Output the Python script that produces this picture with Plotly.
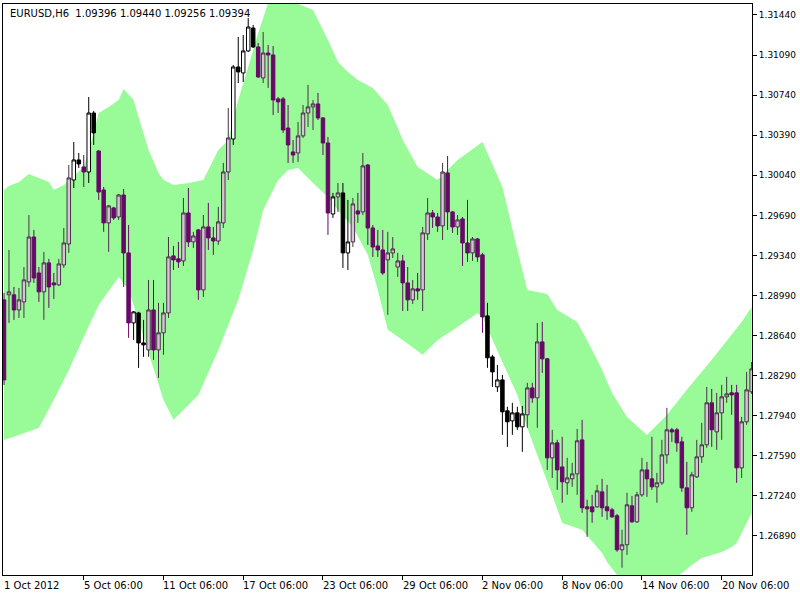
import numpy as np
import plotly.graph_objects as go

# ---- data (EURUSD H6, bar index 0 = 1 Oct 2012 06:00) ----
opens = [1.28952, 1.28996, 1.28996, 1.28864, 1.28934, 1.29109, 1.29501, 1.29187, 1.29022, 1.29275,
         1.29100, 1.29083, 1.29257, 1.29440, 1.29999, 1.30174, 1.30113, 1.30069, 1.30584, 1.30252,
         1.29912, 1.29624, 1.29755, 1.29676, 1.29868, 1.29362, 1.28751, 1.28838, 1.28576, 1.28515,
         1.28864, 1.28515, 1.28664, 1.28838, 1.29336, 1.29310, 1.29292, 1.29711, 1.29458, 1.29563,
         1.29039, 1.29589, 1.29493, 1.29466, 1.29624, 1.30069, 1.30357, 1.30986, 1.30934, 1.31126,
         1.31326, 1.31161, 1.30890, 1.31108, 1.31091, 1.30707, 1.30707, 1.30453, 1.30244, 1.30235,
         1.30384, 1.30584, 1.30637, 1.30663, 1.30541, 1.30322, 1.29702, 1.29851, 1.29886, 1.29362,
         1.29458, 1.29729, 1.29720, 1.30130, 1.29580, 1.29423, 1.29388, 1.29301, 1.29362, 1.29239,
         1.29292, 1.29100, 1.28952, 1.29048, 1.29039, 1.29528, 1.29711, 1.29676, 1.29598, 1.30060,
         1.29720, 1.29589, 1.29659, 1.29449, 1.29362, 1.29484, 1.29345, 1.28812, 1.28454, 1.28192,
         1.28253, 1.27983, 1.27895, 1.27965, 1.27843, 1.27948, 1.28183, 1.28096, 1.28585, 1.28437,
         1.27572, 1.27703, 1.27493, 1.27354, 1.27389, 1.27432, 1.27729, 1.27144, 1.27144, 1.27144,
         1.27275, 1.27144, 1.27118, 1.27066, 1.26769, 1.26813, 1.27153, 1.27013, 1.27249, 1.27467,
         1.27389, 1.27319, 1.27354, 1.27598, 1.27817, 1.27817, 1.27712, 1.27310, 1.27136, 1.27406,
         1.27581, 1.27686, 1.28053, 1.27799, 1.27965, 1.28105, 1.28140, 1.28140, 1.27485, 1.27887,
         1.28149]
highs = [1.29013, 1.29388, 1.29065, 1.29056, 1.29239, 1.29693, 1.29563, 1.29239, 1.29371, 1.29310,
         1.29187, 1.29310, 1.29580, 1.30130, 1.30331, 1.30235, 1.30217, 1.30724, 1.30602, 1.30261,
         1.29938, 1.29781, 1.29764, 1.29877, 1.29920, 1.29606, 1.28855, 1.28847, 1.28777, 1.29126,
         1.29126, 1.28926, 1.28926, 1.29501, 1.29423, 1.29458, 1.29842, 1.29929, 1.29546, 1.29572,
         1.29693, 1.29799, 1.29589, 1.29764, 1.30148, 1.30628, 1.31003, 1.31248, 1.31265, 1.31414,
         1.31353, 1.31196, 1.31292, 1.31178, 1.31169, 1.30724, 1.30724, 1.30654, 1.30348, 1.30506,
         1.30654, 1.30829, 1.30698, 1.30759, 1.30549, 1.30375, 1.29886, 1.29973, 1.29973, 1.29825,
         1.29842, 1.29886, 1.30235, 1.30139, 1.29606, 1.29563, 1.29563, 1.29546, 1.29501, 1.29362,
         1.29345, 1.29239, 1.29126, 1.29187, 1.29589, 1.29842, 1.29737, 1.29711, 1.30148, 1.30209,
         1.29729, 1.29693, 1.29676, 1.29825, 1.29501, 1.29493, 1.29362, 1.28926, 1.28472, 1.28384,
         1.28297, 1.28018, 1.28053, 1.28018, 1.28026, 1.28227, 1.28227, 1.28751, 1.28760, 1.28445,
         1.27817, 1.27729, 1.27756, 1.27572, 1.27529, 1.27825, 1.27904, 1.27206, 1.27249, 1.27336,
         1.27389, 1.27336, 1.27136, 1.27083, 1.26944, 1.27267, 1.27240, 1.27275, 1.27572, 1.27537,
         1.27756, 1.27441, 1.27729, 1.28009, 1.27834, 1.27834, 1.27756, 1.27537, 1.27450, 1.27729,
         1.27878, 1.28192, 1.28175, 1.28140, 1.28210, 1.28280, 1.28210, 1.28210, 1.27930, 1.28323,
         1.28410]
lows = [1.28209, 1.28751, 1.28777, 1.28794, 1.28794, 1.29065, 1.29100, 1.28934, 1.28777, 1.28882,
        1.28960, 1.29074, 1.29231, 1.29362, 1.29929, 1.30104, 1.29938, 1.29973, 1.30305, 1.29825,
        1.29546, 1.29371, 1.29650, 1.29650, 1.29065, 1.28620, 1.28602, 1.28358, 1.28454, 1.28454,
        1.28428, 1.28271, 1.28472, 1.28794, 1.29213, 1.29231, 1.29248, 1.29414, 1.29406, 1.28952,
        1.28978, 1.29388, 1.29345, 1.29432, 1.29580, 1.29999, 1.30305, 1.30846, 1.30855, 1.31117,
        1.31152, 1.30890, 1.30846, 1.30803, 1.30567, 1.30584, 1.30410, 1.30148, 1.30148, 1.30157,
        1.30366, 1.30462, 1.30436, 1.30523, 1.30217, 1.29519, 1.29668, 1.29720, 1.29231, 1.29213,
        1.29414, 1.29624, 1.29693, 1.29432, 1.29327, 1.29327, 1.29170, 1.28821, 1.29318, 1.29152,
        1.28855, 1.28855, 1.28917, 1.28952, 1.28855, 1.29475, 1.29580, 1.29546, 1.29475, 1.29563,
        1.29537, 1.29519, 1.29248, 1.29284, 1.29292, 1.29284, 1.28664, 1.28358, 1.28192, 1.28148,
        1.27773, 1.27668, 1.27773, 1.27817, 1.27625, 1.27834, 1.28053, 1.27834, 1.28314, 1.27467,
        1.27397, 1.27293, 1.27180, 1.27249, 1.27319, 1.27249, 1.27092, 1.26882, 1.27005, 1.27136,
        1.27057, 1.27031, 1.27048, 1.26752, 1.26612, 1.26725, 1.27005, 1.27005, 1.27232, 1.27232,
        1.27293, 1.27180, 1.27336, 1.27520, 1.27712, 1.27625, 1.27275, 1.26900, 1.27101, 1.27397,
        1.27529, 1.27660, 1.27668, 1.27642, 1.27729, 1.28053, 1.27948, 1.27354, 1.27397, 1.27861,
        1.28131]
closes = [1.28253, 1.29022, 1.28864, 1.28952, 1.29126, 1.29501, 1.29143, 1.29022, 1.29275, 1.29065,
          1.29083, 1.29266, 1.29449, 1.30017, 1.30174, 1.30139, 1.30069, 1.30584, 1.30410, 1.29894,
          1.29624, 1.29773, 1.29668, 1.29868, 1.29362, 1.28751, 1.28847, 1.28576, 1.28559, 1.28864,
          1.28515, 1.28664, 1.28838, 1.29327, 1.29301, 1.29284, 1.29711, 1.29458, 1.29510, 1.29039,
          1.29589, 1.29493, 1.29466, 1.29633, 1.30069, 1.30366, 1.30986, 1.30943, 1.31126, 1.31335,
          1.31161, 1.30899, 1.31108, 1.31091, 1.30698, 1.30681, 1.30436, 1.30305, 1.30217, 1.30384,
          1.30584, 1.30637, 1.30663, 1.30541, 1.30322, 1.29711, 1.29851, 1.29886, 1.29362, 1.29458,
          1.29790, 1.29702, 1.30122, 1.29580, 1.29414, 1.29388, 1.29187, 1.29362, 1.29397, 1.29292,
          1.29100, 1.28952, 1.29048, 1.29030, 1.29537, 1.29711, 1.29676, 1.29598, 1.30069, 1.29720,
          1.29589, 1.29650, 1.29449, 1.29362, 1.29484, 1.29327, 1.28803, 1.28446, 1.28323, 1.28253,
          1.27974, 1.27887, 1.27965, 1.27843, 1.27956, 1.28183, 1.28096, 1.28585, 1.28437, 1.27572,
          1.27703, 1.27467, 1.27363, 1.27397, 1.27432, 1.27721, 1.27136, 1.27127, 1.27101, 1.27284,
          1.27136, 1.27110, 1.27057, 1.26769, 1.26813, 1.27162, 1.27013, 1.27249, 1.27467, 1.27389,
          1.27319, 1.27354, 1.27598, 1.27817, 1.27799, 1.27703, 1.27310, 1.27136, 1.27424, 1.27581,
          1.27686, 1.28053, 1.27817, 1.27965, 1.28105, 1.28131, 1.28122, 1.27485, 1.27887, 1.28166,
          1.28349]

# envelope band (bar index, price)
upper_bar = [0, 1, 3, 5, 7, 9, 10, 12, 16, 17, 18, 19, 21, 23, 24, 26, 27, 29, 31, 32,
             34, 37, 40, 41, 43, 45, 47, 49, 51, 53, 56, 59, 62, 65, 67, 69, 71, 74, 77, 79,
             80, 83, 87, 91, 96, 100, 103, 105, 109, 111, 115, 118, 120, 122, 125, 129, 133, 137, 142, 148,
             150]
upper_val = [1.29912, 1.29947, 1.29982, 1.30052, 1.30017, 1.29982, 1.29912, 1.29956, 1.30113, 1.30261,
             1.30410, 1.30584, 1.30637, 1.30698, 1.30794, 1.30698, 1.30549, 1.30261, 1.30060, 1.29999,
             1.29956, 1.29973, 1.29999, 1.30086, 1.30261, 1.30348, 1.30698, 1.30986, 1.31283, 1.31545,
             1.31746, 1.31536, 1.31484, 1.31222, 1.31030, 1.30942, 1.30872, 1.30802, 1.30654, 1.30453,
             1.30348, 1.30113, 1.29999, 1.30174, 1.30331, 1.29938, 1.29388, 1.29039, 1.29004, 1.28864,
             1.28759, 1.28515, 1.28340, 1.28139, 1.27929, 1.27772, 1.27947, 1.28166, 1.28428, 1.28759,
             1.28890]
lower_bar = [0, 3, 7, 10, 13, 16, 19, 23, 25, 27, 29, 32, 34, 36, 39, 43, 47, 50, 52, 55,
             57, 59, 62, 65, 67, 70, 73, 75, 77, 80, 84, 87, 91, 95, 96, 100, 103, 105, 107, 110,
             112, 116, 120, 121, 123, 126, 130, 135, 138, 140, 144, 146, 147, 149, 150]
lower_val = [1.27729, 1.27772, 1.27834, 1.28079, 1.28340, 1.28628, 1.28908, 1.29152, 1.29039, 1.28777,
             1.28489, 1.28079, 1.27904, 1.27991, 1.28122, 1.28515, 1.28952, 1.29388, 1.29737, 1.29999,
             1.30086, 1.30104, 1.29973, 1.29851, 1.29737, 1.29589, 1.29345, 1.29039, 1.28690, 1.28602,
             1.28472, 1.28602, 1.28716, 1.28838, 1.28803, 1.28410, 1.28122, 1.27834, 1.27598, 1.27249,
             1.27004, 1.26944, 1.26742, 1.26663, 1.26550, 1.26436, 1.26418, 1.26532, 1.26637, 1.26698,
             1.26750, 1.26794, 1.26829, 1.27004, 1.27091]

# axis labels
date_tick_bars = [0, 16, 32, 48, 64, 80, 96, 112, 128, 144]
date_tick_labels = ["1 Oct 2012", "5 Oct 06:00", "11 Oct 06:00", "17 Oct 06:00", "23 Oct 06:00",
                    "29 Oct 06:00", "2 Nov 06:00", "8 Nov 06:00", "14 Nov 06:00", "20 Nov 06:00"]
price_ticks = [1.26890, 1.27240, 1.27590, 1.27940, 1.28290, 1.28640, 1.28990,
               1.29340, 1.29690, 1.30040, 1.30390, 1.30740, 1.31090, 1.31440]
header = "EURUSD,H6  1.09396 1.09440 1.09256 1.09394"

# ---- figure ----
o = np.array(opens); h = np.array(highs); l = np.array(lows); c = np.array(closes)
bars = np.arange(len(o))
up_at = np.interp(bars, upper_bar, upper_val)
lo_at = np.interp(bars, lower_bar, lower_val)
mid = (o + c) / 2
outside = (mid > up_at) | (mid < lo_at)
inside = ~outside

# band polygon in data coordinates, drawn beneath the candles
poly = list(zip(upper_bar, upper_val)) + list(zip(lower_bar[::-1], lower_val[::-1]))
band_path = "M " + " L ".join(f"{x},{y}" for x, y in poly) + " Z"

fig = go.Figure()
fig.add_shape(type="path", path=band_path, xref="x", yref="y",
              fillcolor="#98FB98", line=dict(width=0), layer="below")

fig.add_trace(go.Candlestick(
    x=bars[inside], open=o[inside], high=h[inside], low=l[inside], close=c[inside],
    increasing=dict(fillcolor="#d8c4d8", line=dict(color="#4a304a", width=1)),
    decreasing=dict(fillcolor="#680868", line=dict(color="#680868", width=1)),
    showlegend=False, hoverinfo="skip"))
fig.add_trace(go.Candlestick(
    x=bars[outside], open=o[outside], high=h[outside], low=l[outside], close=c[outside],
    increasing=dict(fillcolor="#ffffff", line=dict(color="#000000", width=1)),
    decreasing=dict(fillcolor="#000000", line=dict(color="#000000", width=1)),
    showlegend=False, hoverinfo="skip"))

annotations = []
for b, t in zip(date_tick_bars, date_tick_labels):
    annotations.append(dict(x=b, xref="x", y=0, yref="paper", yanchor="top", xanchor="left",
                            yshift=-3, xshift=-2, text=t, showarrow=False,
                            font=dict(family="DejaVu Sans", size=10, color="#000000")))
annotations.append(dict(x=0, xref="paper", y=1, yref="paper", xanchor="left", yanchor="top",
                        xshift=5, yshift=-2, text=header.replace("  ", "&nbsp;&nbsp;"), showarrow=False,
                        font=dict(family="DejaVu Sans", size=10, color="#000000")))

fig.update_layout(
    width=800, height=600,
    margin=dict(l=3, r=48, t=4, b=25, autoexpand=False),
    paper_bgcolor="#ffffff", plot_bgcolor="#ffffff",
    showlegend=False, hovermode=False,
    boxgap=0.3, boxgroupgap=0,
    annotations=annotations,
    xaxis=dict(range=[-0.2, 150.08], showgrid=False, zeroline=False,
               showline=True, mirror=True, linecolor="#000000", linewidth=1,
               ticks="outside", ticklen=4, tickcolor="#000000",
               tickvals=date_tick_bars[1:], showticklabels=False,
               rangeslider=dict(visible=False)),
    yaxis=dict(range=[1.26549, 1.31536], side="right", showgrid=False, zeroline=False,
               showline=True, mirror=True, linecolor="#000000", linewidth=1,
               ticks="outside", ticklen=4, tickcolor="#000000",
               tickvals=price_ticks, ticktext=[f"{v:.5f}" for v in price_ticks],
               tickfont=dict(family="DejaVu Sans", size=9, color="#000000")),
)

fig.write_html("out.html",
               config={"displayModeBar": False},
               post_script="document.body.style.margin='0';document.body.style.padding='0';"
                           "document.body.style.overflow='hidden';")
